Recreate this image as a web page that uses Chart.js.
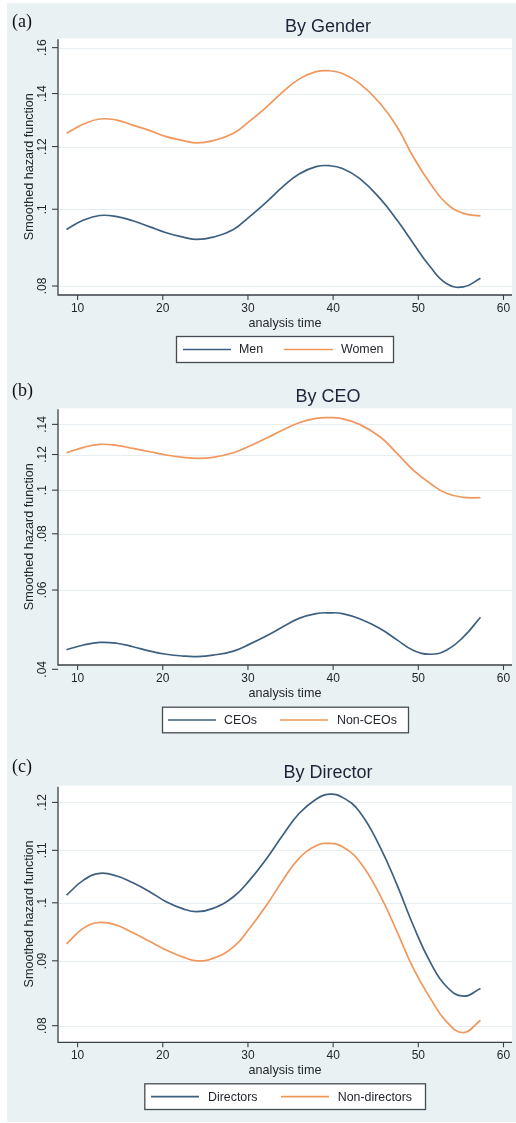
<!DOCTYPE html>
<html>
<head>
<meta charset="utf-8">
<script src="https://cdn.jsdelivr.net/npm/chart.js@4.4.1/dist/chart.umd.min.js"></script>
<style>
  html, body { margin: 0; padding: 0; background: #ffffff; }
  body { width: 516px; height: 1123px; position: relative; overflow: hidden; }
  #panelBg { position: absolute; left: 7px; top: 3px; width: 509px; height: 1119px; background: #eaf1f3; }
  canvas { position: absolute; left: 0; }
</style>
</head>
<body>
<div id="panelBg"></div>
<canvas id="gender" width="516" height="370" style="top:0px"></canvas>
<canvas id="ceo" width="516" height="370" style="top:370px"></canvas>
<canvas id="director" width="516" height="383" style="top:740px"></canvas>
<script>
// Smoothed hazard estimates by analysis time (years)
const analysisTime = [8.7, 10.7, 12.6, 14.6, 16.5, 18.5, 20.4, 22.4, 24.0, 25.9, 28.3, 30.2, 32.2,
                      34.1, 36.0, 38.0, 39.6, 41.1, 43.1, 45.5, 47.5, 49.4, 51.4, 53.3, 55.3, 57.3];

const menHazard   = [.0943, .0969, .0982, .0979, .0967, .0950, .0934, .0922, .0916, .0922, .0943, .0979, .1022,
                     .1068, .1108, .1132, .1135, .1126, .1094, .1032, .0969, .0906, .0846, .0806, .0798, .0818];
const womenHazard = [.1247, .1281, .1300, .1296, .1277, .1257, .1235, .1221, .1213, .1221, .1247, .1292, .1347,
                     .1407, .1460, .1492, .1496, .1484, .1442, .1361, .1271, .1165, .1078, .1017, .0988, .0981];

const ceoHazard    = [.0442, .0453, .0459, .0457, .0449, .0439, .0432, .0428, .0427, .0430, .0439, .0455, .0475,
                      .0497, .0519, .0532, .0534, .0532, .0518, .0493, .0465, .0441, .0432, .0441, .0472, .0522];
const nonCeoHazard = [.1211, .1245, .1264, .1257, .1238, .1217, .1197, .1183, .1177, .1183, .1211, .1253, .1306,
                      .1360, .1412, .1444, .1449, .1441, .1400, .1314, .1207, .1108, .1035, .0984, .0964, .0962];

const directorHazard    = [.1014, .1042, .1055, .1050, .1037, .1020, .1002, .0989, .0984, .0990, .1011, .1042, .1084,
                           .1131, .1176, .1207, .1218, .1211, .1180, .1107, .1033, .0960, .0898, .0859, .0844, .0856];
const nonDirectorHazard = [.0928, .0955, .0965, .0960, .0947, .0932, .0918, .0906, .0900, .0904, .0923, .0955, .0996,
                           .1042, .1084, .1109, .1114, .1107, .1078, .1014, .0949, .0888, .0841, .0806, .0790, .0808];

const timeTicks     = [10, 20, 30, 40, 50, 60];
const genderTicks   = [0.08, 0.10, 0.12, 0.14, 0.16];
const ceoTicks      = [0.04, 0.06, 0.08, 0.10, 0.12, 0.14];
const directorTicks = [0.08, 0.09, 0.10, 0.11, 0.12];

const SANS  = '"Liberation Sans", Arial, Helvetica, sans-serif';
const SERIF = '"Liberation Serif", "Times New Roman", serif';
const BLUE = '#3e6080';
const ORANGE = '#f0975c';
const INK = '#23272d';

const fmtTick = v => String(+v.toFixed(4)).replace(/^0\./, '.');

// Stata-style frame: white plot region, faint grid, axes, rotated y labels, boxed legend
const stataFrame = {
  id: 'stataFrame',
  beforeDatasetsDraw(chart) {
    const { ctx, chartArea: a, scales: { y } } = chart;
    const p = chart.options.plugins.stataFrame;
    ctx.save();
    ctx.fillStyle = '#ffffff';
    ctx.fillRect(a.left, a.top, a.right - a.left, a.bottom - a.top);
    ctx.strokeStyle = '#e7eef1';
    ctx.lineWidth = 1;
    p.yTicks.forEach(v => {
      const py = Math.round(y.getPixelForValue(v)) + 0.5;
      if (py < a.top || py > a.bottom - 2) return;
      ctx.beginPath(); ctx.moveTo(a.left + 1, py); ctx.lineTo(a.right, py); ctx.stroke();
    });
    ctx.restore();
  },
  afterDraw(chart) {
    const { ctx, chartArea: a, scales: { x, y } } = chart;
    const p = chart.options.plugins.stataFrame;
    ctx.save();

    // axis lines
    ctx.strokeStyle = '#3b4046';
    ctx.lineWidth = 1.3;
    ctx.beginPath();
    ctx.moveTo(a.left, a.top + 1);
    ctx.lineTo(a.left, a.bottom);
    ctx.lineTo(a.right, a.bottom);
    ctx.stroke();

    // y ticks + rotated labels
    ctx.fillStyle = INK;
    ctx.font = '12px ' + SANS;
    ctx.textAlign = 'center';
    ctx.textBaseline = 'middle';
    ctx.lineWidth = 1.1;
    p.yTicks.forEach(v => {
      const py = y.getPixelForValue(v);
      ctx.beginPath(); ctx.moveTo(a.left - 6, py); ctx.lineTo(a.left, py); ctx.stroke();
      ctx.save();
      ctx.translate(a.left - 15, py);
      ctx.rotate(-Math.PI / 2);
      ctx.fillText(fmtTick(v), 0, 0);
      ctx.restore();
    });

    // x ticks + labels
    timeTicks.forEach(v => {
      const px = x.getPixelForValue(v);
      ctx.beginPath(); ctx.moveTo(px, a.bottom); ctx.lineTo(px, a.bottom + 5); ctx.stroke();
      ctx.fillText(String(v), px, a.bottom + 13.5);
    });

    // axis titles
    ctx.font = '12.6px ' + SANS;
    ctx.fillText('analysis time', (a.left + a.right) / 2, a.bottom + 28.5);
    ctx.save();
    ctx.translate(29.5, (a.top + a.bottom) / 2);
    ctx.rotate(-Math.PI / 2);
    ctx.fillText('Smoothed hazard function', 0, 0);
    ctx.restore();

    // chart title and panel tag
    ctx.fillStyle = '#1d2437';
    ctx.font = '18px ' + SANS;
    ctx.fillText(p.title, 328, p.titleY);
    ctx.fillStyle = '#111111';
    ctx.font = '18px ' + SERIF;
    ctx.textAlign = 'left';
    ctx.fillText(p.tag, 12, p.tagY);

    // legend box
    const lg = p.legend;
    ctx.fillStyle = '#ffffff';
    ctx.fillRect(lg.x, lg.y, lg.w, lg.h);
    ctx.strokeStyle = '#464b52';
    ctx.lineWidth = 1.3;
    ctx.strokeRect(lg.x + 0.5, lg.y + 0.5, lg.w, lg.h);
    const cy = lg.y + lg.h / 2 + 0.5;
    ctx.font = '12.4px ' + SANS;
    ctx.textAlign = 'left';
    chart.data.datasets.forEach((ds, i) => {
      const it = lg.items[i];
      ctx.strokeStyle = ds.borderColor;
      ctx.lineWidth = 1.6;
      ctx.beginPath(); ctx.moveTo(it.x0, cy); ctx.lineTo(it.x1, cy); ctx.stroke();
      ctx.fillStyle = INK;
      ctx.fillText(ds.label, it.tx, cy + 0.5);
    });
    ctx.restore();
  }
};

function makePanel(id, labels, series, yTicks, yRange, frame, pad) {
  const points = vals => analysisTime.map((t, i) => ({ x: t, y: vals[i] }));
  const line = (label, vals, color) => ({
    label, data: points(vals), borderColor: color, borderWidth: 1.7,
    pointRadius: 0, tension: 0.45, fill: false
  });
  return new Chart(document.getElementById(id), {
    type: 'line',
    data: {
      datasets: [
        line(labels[0], series[0], BLUE),
        line(labels[1], series[1], ORANGE)
      ]
    },
    options: {
      responsive: false,
      animation: false,
      devicePixelRatio: 1,
      layout: { padding: pad },
      scales: {
        x: { type: 'linear', min: 7.7, max: 61, display: false },
        y: { type: 'logarithmic', min: yRange[0], max: yRange[1], bounds: 'data', display: false }
      },
      plugins: {
        legend: { display: false },
        title: { display: false },
        tooltip: { enabled: false },
        stataFrame: Object.assign({ yTicks }, frame)
      }
    },
    plugins: [stataFrame]
  });
}

makePanel('gender', ['Men', 'Women'], [menHazard, womenHazard], genderTicks, [0.07793, 0.1644],
  { title: 'By Gender', titleY: 27, tag: '(a)', tagY: 22.5,
    legend: { x: 176, y: 336, w: 217, h: 26,
              items: [{ x0: 183, x1: 231, tx: 239 }, { x0: 284, x1: 333, tx: 341 }] } },
  { left: 58, top: 38.3, right: 4, bottom: 75 });

makePanel('ceo', ['CEOs', 'Non-CEOs'], [ceoHazard, nonCeoHazard], ceoTicks, [0.04089, 0.1520],
  { title: 'By CEO', titleY: 26.7, tag: '(b)', tagY: 21,
    legend: { x: 162, y: 336.7, w: 246, h: 25.6,
              items: [{ x0: 168, x1: 216, tx: 224 }, { x0: 280, x1: 328, tx: 337 }] } },
  { left: 58, top: 38.3, right: 4, bottom: 75 });

makePanel('director', ['Directors', 'Non-directors'], [directorHazard, nonDirectorHazard], directorTicks, [0.07762, 0.1237],
  { title: 'By Director', titleY: 33.3, tag: '(c)', tagY: 27.5,
    legend: { x: 144.3, y: 343.3, w: 280.7, h: 25.7,
              items: [{ x0: 151, x1: 199, tx: 208 }, { x0: 281, x1: 329, tx: 337.7 }] } },
  { left: 58, top: 45.7, right: 4, bottom: 80.7 });
</script>
</body>
</html>
